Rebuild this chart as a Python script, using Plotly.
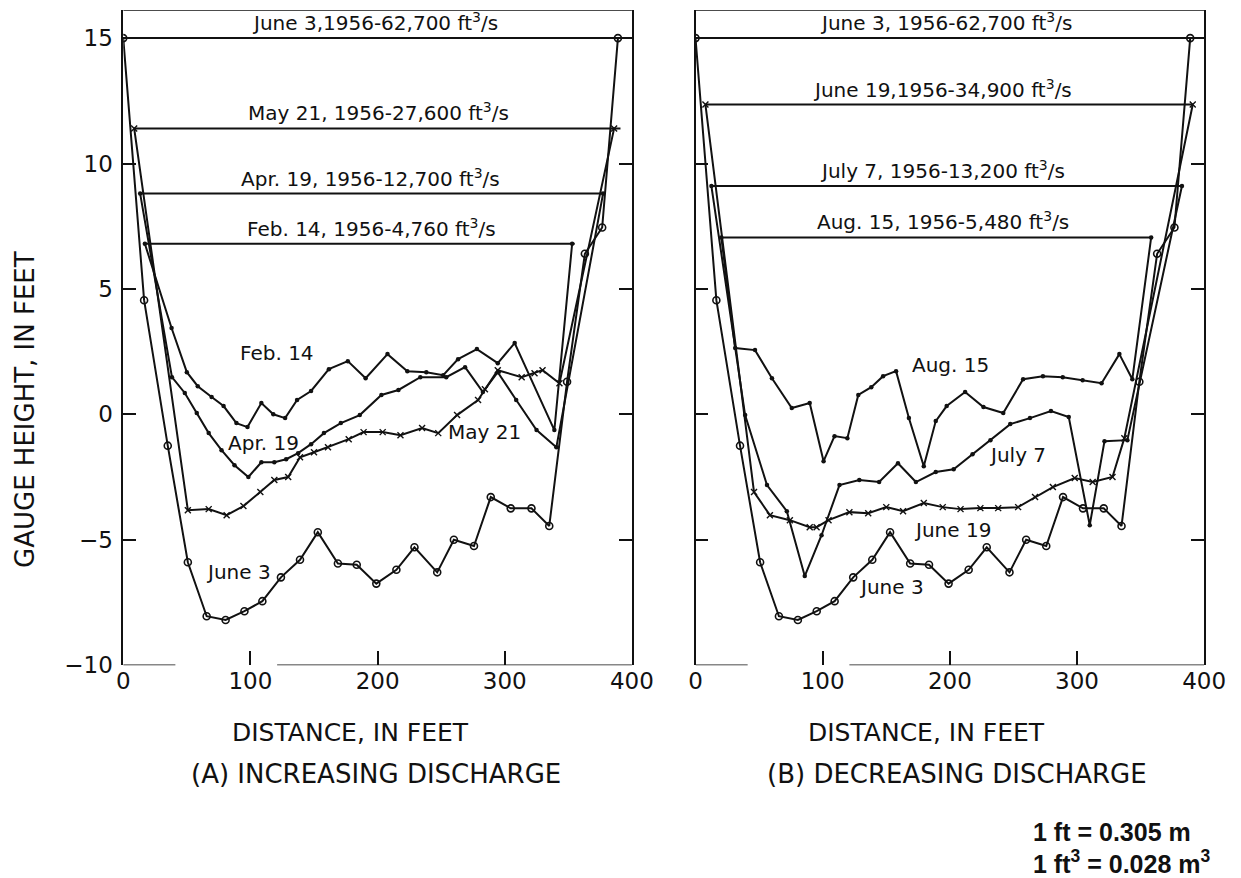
import plotly.graph_objects as go

W, H = 1241, 878

# ---------------------------------------------------------------------------
# Cross-section data (distance in feet, gauge height in feet)
# ---------------------------------------------------------------------------
june3_x = [0, 16.4, 35, 50.8, 65.6, 80.5, 95.3, 109.4, 124, 139, 153, 168.8, 183.6,
           199, 214.8, 229, 246.9, 260, 275.8, 289, 304.7, 321, 335, 349, 363, 376.6, 389]
june3_y = [15, 4.55, -1.25, -5.9, -8.05, -8.2, -7.85, -7.45, -6.5, -5.8, -4.7, -5.95, -6.0,
           -6.75, -6.2, -5.3, -6.3, -5.0, -5.25, -3.3, -3.75, -3.75, -4.45, 1.3, 6.4, 7.45, 15]

# (A) increasing discharge
feb14_x = [17, 38, 50, 58.6, 69.5, 78.9, 89, 97.7, 108.6, 118, 127.3, 136.7, 147.7, 161.7,
           176.6, 190.6, 207.8, 223.4, 238.3, 251.6, 263.3, 278.1, 294.5, 307.8, 339, 353]
feb14_y = [6.8, 3.44, 1.68, 1.12, 0.69, 0.33, -0.35, -0.51, 0.45, 0.0, -0.15, 0.57, 0.93, 1.8,
           2.12, 1.44, 2.4, 1.72, 1.68, 1.56, 2.2, 2.6, 2.04, 2.84, -0.63, 6.8]

apr19_x = [13.3, 38.3, 48.4, 57.8, 67.2, 77.3, 87.5, 98.4, 108.6, 118.8, 128.1, 137.5, 147.7,
           157.8, 171.1, 186, 203, 216.4, 233.6, 254, 268.8, 282.8, 294.5, 309, 325, 340.6, 377.3]
apr19_y = [8.8, 1.48, 0.85, 0.05, -0.75, -1.43, -2.03, -2.5, -1.91, -1.91, -1.79, -1.55, -1.19,
           -0.75, -0.35, -0.03, 0.77, 0.97, 1.48, 1.48, 1.88, 0.89, 1.68, 0.57, -0.63, -1.31, 8.8]

may21_x = [8.6, 50.8, 67.2, 81.3, 94.5, 107.8, 118.8, 129.7, 139, 150, 161, 177.3, 189, 204,
           218, 235, 247.7, 262.5, 279, 284.4, 294.5, 313.3, 323.4, 329.7, 343, 386]
may21_y = [11.4, -3.82, -3.78, -4.02, -3.66, -3.1, -2.62, -2.5, -1.71, -1.51, -1.31, -0.99, -0.71,
           -0.71, -0.83, -0.55, -0.75, -0.03, 0.57, 1.0, 1.76, 1.48, 1.64, 1.76, 1.24, 11.4]

# (B) decreasing discharge
june19_x = [7.8, 46, 58.5, 74.2, 89.8, 95.2, 104.6, 121, 135.8, 150, 163.2, 179.5, 194.4,
            208.4, 224, 238, 253.7, 267, 281, 298.2, 312.3, 327.9, 337.2, 391]
june19_y = [12.35, -3.1, -4.02, -4.22, -4.5, -4.5, -4.22, -3.9, -3.94, -3.7, -3.86, -3.54, -3.7,
            -3.78, -3.74, -3.74, -3.7, -3.3, -2.9, -2.54, -2.7, -2.5, -0.95, 12.35]

july7_x = [12.5, 39, 56.2, 71.8, 85.9, 99.1, 113.2, 128.8, 144.4, 159.2, 173.3, 188.9, 203,
           217.8, 231.9, 247.5, 263, 279.5, 293.5, 310, 321.6, 339.6, 382.5]
july7_y = [9.1, -0.03, -2.82, -3.86, -6.45, -4.82, -2.82, -2.62, -2.7, -1.95, -2.7, -2.3, -2.19,
           -1.59, -1.03, -0.39, -0.15, 0.13, -0.11, -4.42, -1.07, -1.03, 9.1]

aug15_x = [20.3, 31.2, 46.8, 60.1, 75.7, 89.8, 100.7, 109.3, 119.4, 128, 138.2, 147.5, 157.7,
           167.8, 179.5, 188.9, 197.5, 212, 226.4, 242, 257.6, 273.2, 288.8, 304.4, 319.3,
           333.3, 343.5, 358.3]
aug15_y = [7.05, 2.64, 2.56, 1.44, 0.25, 0.45, -1.87, -0.87, -0.95, 0.77, 1.08, 1.52, 1.72,
           -0.15, -2.07, -0.27, 0.33, 0.89, 0.29, 0.05, 1.4, 1.52, 1.48, 1.36, 1.24,
           2.4, 1.4, 7.05]

# Water-surface labels and levels
a_surface_labels = ["June 3,1956-62,700 ft<sup>3</sup>/s", "May 21, 1956-27,600 ft<sup>3</sup>/s",
                    "Apr. 19, 1956-12,700 ft<sup>3</sup>/s", "Feb. 14, 1956-4,760 ft<sup>3</sup>/s"]
b_surface_labels = ["June 3, 1956-62,700 ft<sup>3</sup>/s", "June 19,1956-34,900 ft<sup>3</sup>/s",
                    "July 7, 1956-13,200 ft<sup>3</sup>/s", "Aug. 15, 1956-5,480 ft<sup>3</sup>/s"]
a_surface_levels = [15, 11.4, 8.8, 6.8]
b_surface_levels = [15, 12.35, 9.1, 7.05]
a_surface_left = [0, 8.6, 13.3, 17]
a_surface_right = [400, 391, 377.3, 355]
b_surface_left = [0, 7.8, 12.5, 20.3]
b_surface_right = [400, 391, 383, 358.3]

x_ticks = [0, 100, 200, 300, 400]
y_ticks = [-10, -5, 0, 5, 10, 15]

FONT = "DejaVu Sans"
BLACK = "#111111"

# page-pixel helpers (with a small correction for the rendered page scale)
SX, OX, SY = 0.983, 4.0, 0.985


def px_x(p):
    return ((p - OX) / SX) / W


def px_y(p):
    return 1 - (p / SY) / H


fig = go.Figure()

circle_open = dict(symbol="circle-open", size=7, color=BLACK, line=dict(width=1.6, color=BLACK))
dot = dict(symbol="circle", size=4.5, color=BLACK)
cross = dict(symbol="x-thin-open", size=6, color=BLACK, line=dict(width=1.4, color=BLACK))


def profile(x, y, marker, xa, ya):
    fig.add_trace(go.Scatter(x=x, y=y, mode="lines+markers", xaxis=xa, yaxis=ya,
                             line=dict(color=BLACK, width=2), marker=marker,
                             showlegend=False, hoverinfo="skip"))


def surfaces(levels, lefts, rights, xa, ya):
    for lv, l, r in zip(levels, lefts, rights):
        fig.add_trace(go.Scatter(x=[l, r], y=[lv, lv], mode="lines", xaxis=xa, yaxis=ya,
                                 line=dict(color=BLACK, width=2),
                                 showlegend=False, hoverinfo="skip"))


# Panel A
surfaces(a_surface_levels, a_surface_left, a_surface_right, "x", "y")
profile(june3_x, june3_y, circle_open, "x", "y")
profile(may21_x, may21_y, cross, "x", "y")
profile(apr19_x, apr19_y, dot, "x", "y")
profile(feb14_x, feb14_y, dot, "x", "y")

# Panel B
surfaces(b_surface_levels, b_surface_left, b_surface_right, "x2", "y2")
profile(june3_x, june3_y, circle_open, "x2", "y2")
profile(june19_x, june19_y, cross, "x2", "y2")
profile(july7_x, july7_y, dot, "x2", "y2")
profile(aug15_x, aug15_y, dot, "x2", "y2")

y_top = 16.12
ydom = [px_y(665), px_y(10)]

common_x = dict(range=[0, 400], tickvals=x_ticks, ticks="inside", ticklen=14, tickwidth=1.5,
                tickcolor=BLACK, showline=False, showgrid=False, zeroline=False,
                tickfont=dict(family=FONT, size=23, color=BLACK))
common_y = dict(range=[-10, y_top], tickvals=y_ticks, ticks="inside", ticklen=13, tickwidth=1.5,
                tickcolor=BLACK, showline=True, linecolor=BLACK, linewidth=1.5, mirror="ticks",
                showgrid=False, zeroline=False, domain=ydom,
                tickfont=dict(family=FONT, size=23, color=BLACK))

fig.update_layout(
    width=W, height=H, margin=dict(l=0, r=0, t=0, b=0),
    paper_bgcolor="white", plot_bgcolor="white",
    xaxis=dict(common_x, domain=[px_x(121), px_x(633)], anchor="y"),
    yaxis=dict(common_y, anchor="x", ticklabelstandoff=4),
    xaxis2=dict(common_x, domain=[px_x(697), px_x(1209)], anchor="y2"),
    yaxis2=dict(common_y, anchor="x2", showticklabels=False),
)

# Frame: top border and bottom border (with the break near 100 ft)
shapes = []
for xa, ya in (("x", "y"), ("x2", "y2")):
    shapes.append(dict(type="line", xref=xa, yref=ya, x0=0, x1=400, y0=y_top, y1=y_top,
                       line=dict(color=BLACK, width=1.5)))
    shapes.append(dict(type="line", xref=xa, yref=ya, x0=0, x1=41, y0=-10, y1=-10,
                       line=dict(color=BLACK, width=1.5)))
    shapes.append(dict(type="line", xref=xa, yref=ya, x0=121, x1=400, y0=-10, y1=-10,
                       line=dict(color=BLACK, width=1.5)))
fig.update_layout(shapes=shapes)

ann = []
# water-surface labels
a_label_x = [198, 200.7, 194.5, 195]
b_label_x = [197, 194, 194, 195]
for txt, lv, xv in zip(a_surface_labels, a_surface_levels, a_label_x):
    ann.append(dict(x=xv, y=lv, xref="x", yref="y", text=txt, showarrow=False,
                    xanchor="center", yanchor="bottom", yshift=1,
                    font=dict(family=FONT, size=20, color=BLACK)))
for txt, lv, xv in zip(b_surface_labels, b_surface_levels, b_label_x):
    ann.append(dict(x=xv, y=lv, xref="x2", yref="y2", text=txt, showarrow=False,
                    xanchor="center", yanchor="bottom", yshift=1,
                    font=dict(family=FONT, size=20, color=BLACK)))

# curve labels
curve_labels = [
    ("Feb. 14", 121, 2.44, "x", "y"), ("Apr. 19", 110, -1.15, "x", "y"),
    ("May 21", 284, -0.71, "x", "y"), ("June 3", 90.6, -6.29, "x", "y"),
    ("Aug. 15", 200.6, 1.96, "x2", "y2"), ("July 7", 253, -1.63, "x2", "y2"),
    ("June 19", 202, -4.62, "x2", "y2"), ("June 3", 153.8, -6.89, "x2", "y2"),
]
for txt, xv, yv, xa, ya in curve_labels:
    ann.append(dict(x=xv, y=yv, xref=xa, yref=ya, text=txt, showarrow=False,
                    xanchor="center", yanchor="middle",
                    font=dict(family=FONT, size=20, color=BLACK)))

# axis titles and panel captions
ann.append(dict(x=px_x(22), y=px_y(409), xref="paper", yref="paper", text="GAUGE HEIGHT, IN FEET",
                textangle=-90, showarrow=False, xanchor="center", yanchor="middle",
                font=dict(family=FONT, size=26, color=BLACK)))
for cx, cy, txt, sz in ((350, 732, "DISTANCE, IN FEET", 25), (929, 732, "DISTANCE, IN FEET", 25),
                        (375, 774, "(A) INCREASING DISCHARGE", 26),
                        (960, 774, "(B) DECREASING DISCHARGE", 26)):
    ann.append(dict(x=px_x(cx), y=px_y(cy), xref="paper", yref="paper", text=txt,
                    showarrow=False, xanchor="center", yanchor="middle",
                    font=dict(family=FONT, size=sz, color=BLACK)))

ann.append(dict(x=px_x(1035), y=px_y(832), xref="paper", yref="paper", xanchor="left",
                yanchor="middle", text="<b>1 ft = 0.305 m</b>", showarrow=False,
                font=dict(family="Liberation Sans", size=25, color=BLACK)))
ann.append(dict(x=px_x(1035), y=px_y(862), xref="paper", yref="paper", xanchor="left",
                yanchor="middle", text="<b>1 ft<sup>3</sup> = 0.028 m<sup>3</sup></b>",
                showarrow=False, font=dict(family="Liberation Sans", size=25, color=BLACK)))

fig.update_layout(annotations=ann)
fig.write_html("out.html")
